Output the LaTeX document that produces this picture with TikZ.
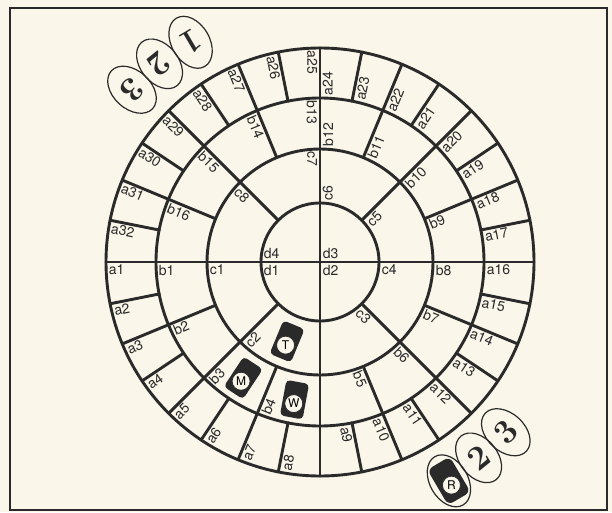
\documentclass[tikz,border=0pt]{standalone}
\usepackage{fontspec}
\usepackage{tikz}
\usetikzlibrary{shapes.geometric}
\newfontfamily\boardfont{TeX Gyre Heros}

\definecolor{paper}{RGB}{250,246,234}
\definecolor{ink}{RGB}{42,42,42}

\tikzset{
  board/.style={line width=2.9pt, draw=ink, line cap=round},
  celllabel/.style={font=\boardfont\fontsize{14}{14}\selectfont, text=ink, inner sep=2.6pt},
  token/.style={fill=ink, rounded corners=4pt, minimum width=23pt, minimum height=36pt, inner sep=0pt},
  tokendisc/.style={circle, draw=ink, line width=0.8pt, fill=paper, minimum size=18pt, inner sep=0pt,
    font=\boardfont\fontsize{12}{12}\selectfont},
  pawnoval/.style={ellipse, draw=ink, line width=1.2pt, minimum width=38pt, minimum height=56pt,
    inner sep=0pt, text=ink, font=\bfseries\fontsize{34}{34}\selectfont},
}

\begin{document}
\begin{tikzpicture}[x=1pt, y=1pt]

% Paper and frame
\fill[paper] (0,0) rectangle (612,512);
\useasboundingbox (0,0) rectangle (612,512);
\draw[ink, line width=1.6pt] (10,2) rectangle (607,504);

\begin{scope}[shift={(320,250)}]

% Rings (outer a, then b, c, d)
\foreach \r in {214,164,113,59} \draw[board] (0,0) circle (\r pt);

% Main cross through all rings
\draw[board] (180:214) -- (0:214);
\draw[board] (270:214) -- (90:214);

% Spokes: 32 in ring a, 16 in ring b, 8 in ring c
\foreach \k in {1,...,32} \draw[board] ({\k*11.25}:164) -- ({\k*11.25}:214);
\foreach \k in {1,...,16} \draw[board] ({\k*22.5}:113) -- ({\k*22.5}:164);
\foreach \k in {1,...,8} \draw[board] ({\k*45}:59) -- ({\k*45}:113);

% Ring a labels (left half reads inwards, right half outwards)
\foreach \k in {1,...,8,25,26,...,32}
  \node[celllabel, rotate={(\k-1)*11.25}, anchor=north west] (a\k) at ({180+(\k-1)*11.25}:214) {a\k};
\foreach \k in {9,...,24}
  \node[celllabel, rotate={180+\k*11.25}, anchor=north west] (a\k) at ({180+\k*11.25}:164) {a\k};

% Ring b labels
\foreach \k in {1,...,4,13,14,15,16}
  \node[celllabel, rotate={(\k-1)*22.5}, anchor=north west] (b\k) at ({180+(\k-1)*22.5}:164) {b\k};
\foreach \k in {5,...,12}
  \node[celllabel, rotate={180+\k*22.5}, anchor=north west] (b\k) at ({180+\k*22.5}:113) {b\k};

% Ring c labels
\foreach \k in {1,2,7,8}
  \node[celllabel, rotate={(\k-1)*45}, anchor=north west] (c\k) at ({180+(\k-1)*45}:113) {c\k};
\foreach \k in {3,...,6}
  \node[celllabel, rotate={180+\k*45}, anchor=north west] (c\k) at ({180+\k*45}:59) {c\k};

% Centre labels
\node[celllabel, anchor=north west] (d1) at (180:59) {d1};
\node[celllabel, anchor=north west] (d2) at (0,0) {d2};
\node[celllabel, anchor=south west] (d3) at (0,0) {d3};
\node[celllabel, anchor=south west] (d4) at (180:59) {d4};

% Tokens on the board
\node[token, rotate=-22.5] (tileT) at (247.5:86) {};
\node[tokendisc] (discT) at (247.5:90) {T};
\node[token, rotate=-33.5] (tileM) at (236.5:139) {};
\node[tokendisc] (discM) at (236.5:143) {M};
\node[token, rotate=-10.5] (tileW) at (259.5:140) {};
\node[tokendisc] (discW) at (259.5:144) {W};

% Pawn ovals, bottom right
\node[pawnoval, rotate=30.5] (ovalR) at (-59.5:254) {};
\node[token, rotate=30.5, minimum width=26pt, minimum height=41pt, rounded corners=6pt] (tileR) at (ovalR) {};
\node[tokendisc] (discR) at (-59.5:259) {R};
\node[pawnoval, rotate=39] (ovalBtwo) at (-51:252) {2};
\node[pawnoval, rotate=47.5] (ovalBthree) at (-42.5:252) {3};

% Pawn ovals, top left
\node[pawnoval, rotate=210.5] (ovalTone) at (120.5:255) {1};
\node[pawnoval, rotate=219] (ovalTtwo) at (129:255) {2};
\node[pawnoval, rotate=227.5] (ovalTthree) at (137.5:255) {3};

\end{scope}
\end{tikzpicture}
\end{document}
